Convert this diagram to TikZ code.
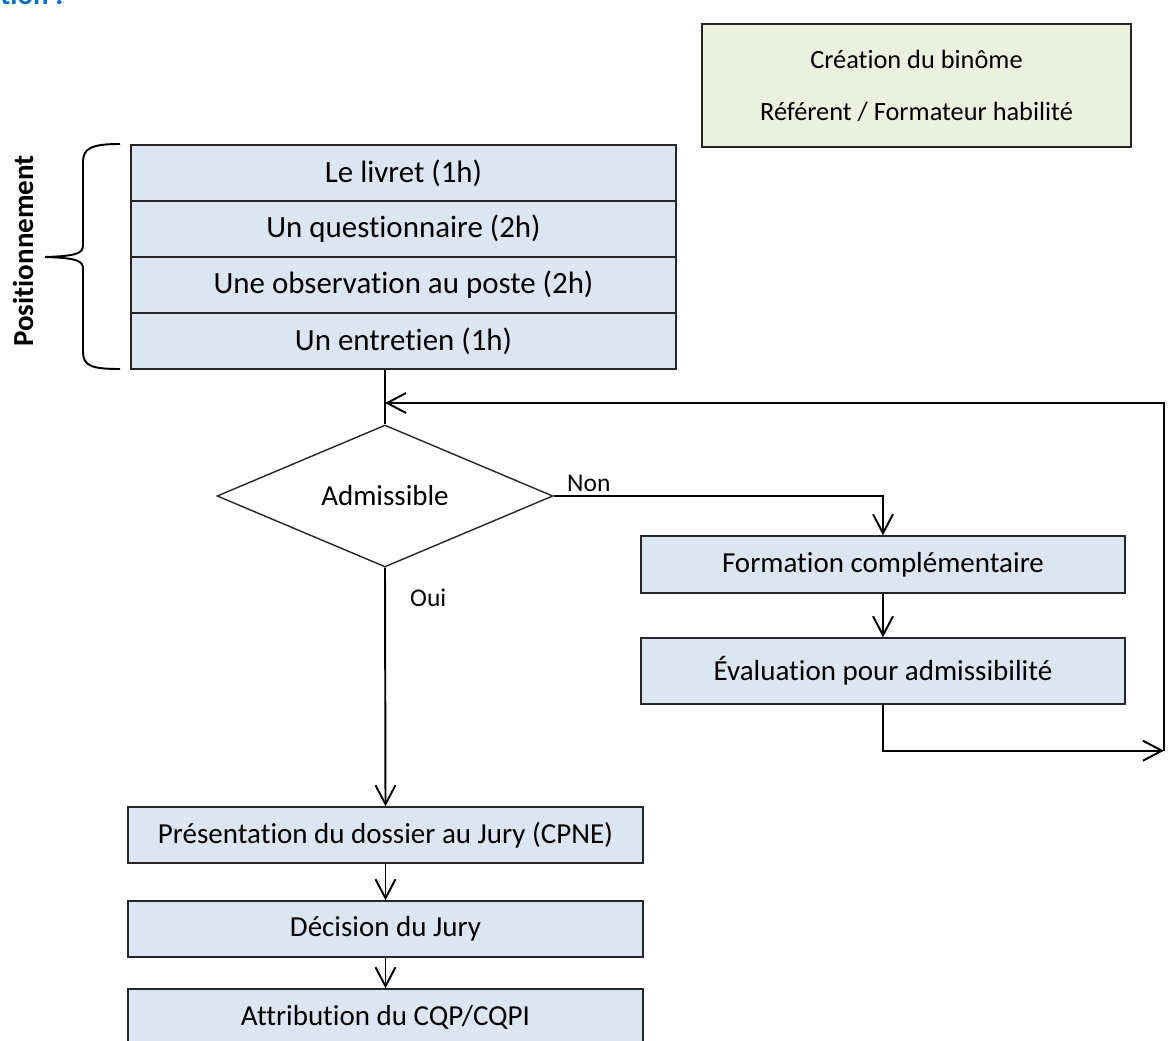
\documentclass[tikz,border=0pt]{standalone}
\usepackage{fontspec}
\setmainfont{Carlito}[Ligatures=NoCommon]
\usetikzlibrary{shapes.geometric, arrows.meta}

\definecolor{boxblue}{RGB}{220,230,242}
\definecolor{boxgreen}{RGB}{235,241,222}
\definecolor{titleblue}{RGB}{0,112,192}

\begin{document}
\begin{tikzpicture}[x=0.02cm, y=-0.02cm,
    etape/.style={rectangle, draw=black!85, line width=0.8pt, fill=boxblue, inner sep=0pt, font=\fontsize{16.5}{19}\selectfont},
    palier/.style={etape, minimum width=10.9cm, minimum height=1.12cm, font=\fontsize{17.6}{20}\selectfont},
    fleche/.style={line width=1.1pt, -{Straight Barb[length=0.38cm, width=0.4cm]}},
    lien/.style={line width=1.1pt},
    reponse/.style={anchor=base west, font=\fontsize{14.5}{17}\selectfont}]
    \useasboundingbox (0,0) rectangle (1174,1041);

    % Title (cut)
    \node[anchor=base west, inner sep=0pt, text=titleblue, font=\bfseries\fontsize{16.5}{19}\selectfont] (titre) at (0,5) {tion :};

    % Binome
    \node[rectangle, draw=black!85, line width=0.8pt, fill=boxgreen, minimum width=8.58cm, minimum height=2.46cm, align=center, font=\fontsize{15}{29.5}\selectfont] (binome) at (916.5,85.5) {Création du binôme\\Référent / Formateur habilité};

    % Positionnement
    \node[palier] (livret) at (403.5,173) {Le livret (1h)};
    \node[palier] (questionnaire) at (403.5,229) {Un questionnaire (2h)};
    \node[palier] (observation) at (403.5,285) {Une observation au poste (2h)};
    \node[palier] (entretien) at (403.5,341) {Un entretien (1h)};

    % brace
    \draw[lien] (120,144) .. controls (92,144) and (83,148) .. (83,162) -- (83,245)
        .. controls (83,253) and (78,256) .. (45,257)
        .. controls (78,258) and (83,261) .. (83,269) -- (83,352)
        .. controls (83,366) and (92,369) .. (120,369);
    \node[rotate=90, font=\bfseries\fontsize{16.5}{19}\selectfont] (position) at (23,251) {Positionnement};

    % Decision
    \node[diamond, draw=black!85, line width=0.8pt, aspect=2.4, minimum width=6.72cm, minimum height=2.84cm, inner sep=0pt, font=\fontsize{16.5}{19}\selectfont] (admis) at (385,496) {Admissible};
    \node[reponse] (non) at (561,491) {Non};
    \node[reponse] (oui) at (404,606) {Oui};

    % Non branch
    \node[etape, minimum width=9.68cm, minimum height=1.14cm] (formation) at (883,564.5) {Formation complémentaire};
    \node[etape, minimum width=9.68cm, minimum height=1.32cm] (evaluation) at (883,671) {Évaluation pour admissibilité};

    % Oui branch
    \node[etape, minimum width=10.3cm, minimum height=1.12cm] (presentation) at (385.5,835) {Présentation du dossier au Jury (CPNE)};
    \node[etape, minimum width=10.3cm, minimum height=1.12cm] (decision) at (385.5,929) {Décision du Jury};
    \node[etape, minimum width=10.3cm, minimum height=1.12cm] (attribution) at (385.5,1017) {Attribution du CQP/CQPI};

    % Connections
    \coordinate (jonction) at (385,403);
    \coordinate (retour) at (1164,750.7);
    \draw[lien] (entretien.south -| admis.north) -- (admis.north);
    \draw[fleche] (admis.east) -| (formation.north);
    \draw[fleche] (formation) -- (evaluation);
    \draw[fleche] (evaluation.south) |- (retour);
    \draw[fleche] (retour) |- (jonction);
    \draw[fleche] (admis.south) -- (presentation.north);
    \draw[fleche] (presentation) -- (decision);
    \draw[fleche] (decision) -- (attribution);
\end{tikzpicture}
\end{document}
